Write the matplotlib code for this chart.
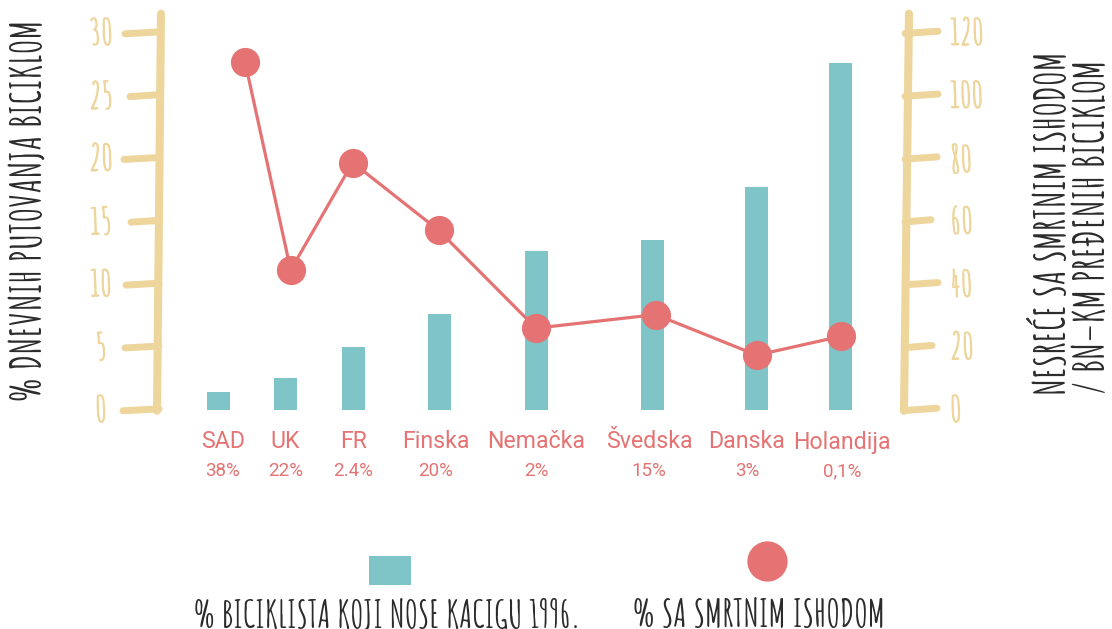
import matplotlib
matplotlib.use('Agg')
import matplotlib.pyplot as plt
import matplotlib.patheffects as pe
from matplotlib.lines import Line2D
from matplotlib.patches import Rectangle

# --- data ---
countries = ['SAD', 'UK', 'FR', 'Finska', 'Nemačka', 'Švedska', 'Danska', 'Holandija']
fatal_share = ['38%', '22%', '2.4%', '20%', '2%', '15%', '3%', '0,1%']
cycling_share = [1.4, 2.5, 5.0, 7.6, 12.6, 13.5, 17.7, 27.6]        # % dnevnih putovanja biciklom
fatalities = [110.7, 44.4, 78.6, 57.0, 25.9, 30.2, 17.3, 23.3]      # nesreće / bn-km
left_ticks = [0, 5, 10, 15, 20, 25, 30]
right_ticks = [0, 20, 40, 60, 80, 100, 120]

# horizontal layout (x units = pixels of the 1112 px wide figure)
bar_x = [218.5, 285.5, 353.5, 439.5, 536.5, 652.5, 756.5, 840.5]
dot_x = [245, 290.7, 352.7, 438.7, 536, 655.7, 756.7, 841]
label_x = [223, 285.5, 353.5, 436, 536.5, 649, 747, 842]

TEAL = '#7fc4c6'
RED = '#e57373'
TAN = '#edd59b'
INK = '#2b2b2b'
HAND = ['Amatic SC', 'DejaVu Sans']
thick = [pe.withStroke(linewidth=0.9, foreground=TAN)]

W, H = 1112, 629
fig = plt.figure(figsize=(W / 100, H / 100), dpi=100)
y0, y30 = 409.5, 32.5
ax = fig.add_axes([158 / W, (H - y0) / H, 748 / W, (y0 - y30) / H])
ax.set_xlim(158, 906)
ax.set_ylim(0, 30)
ax.axis('off')
ax2 = ax.twinx()
ax2.set_ylim(0, 120)
ax2.axis('off')

ax.bar(bar_x, cycling_share, width=23, color=TEAL, zorder=2)
ax2.plot(dot_x, fatalities, color=RED, lw=2.3, marker='o', ms=21,
         markeredgewidth=0, zorder=3)

# hand drawn left axis
ax.plot([161, 157], [31.5, -0.1], color=TAN, lw=5.8, solid_capstyle='round', clip_on=False)
left_ends = [123, 125, 126, 131, 124, 130, 125]
for t, xl in zip(left_ticks, left_ends):
    ax.plot([xl, 159], [t - 0.1, t + 0.05], color=TAN, lw=5, solid_capstyle='round', clip_on=False)
    ax.text(101, t, str(t), ha='center', va='center', color=TAN, family=HAND,
            fontsize=26, path_effects=thick)

# hand drawn right axis
ax2.plot([909, 904], [126.0, -0.4], color=TAN, lw=5.8, solid_capstyle='round', clip_on=False)
right_ends = [937, 932, 938, 931, 937, 938, 938]
for t, xr in zip(right_ticks, right_ends):
    ax2.plot([905, xr], [t - 0.3, t + 0.4], color=TAN, lw=5, solid_capstyle='round', clip_on=False)
    ax2.text(950, t, str(t), ha='left', va='center', color=TAN, family=HAND,
             fontsize=26, path_effects=thick)

# category labels
for x, c, s in zip(label_x, countries, fatal_share):
    fig.text(x / W, 1 - 442 / H, c, ha='center', va='center', color=RED,
             family='Roboto', fontsize=16.7)
    fig.text(x / W, 1 - 471 / H, s, ha='center', va='center', color=RED,
             family='Roboto', fontsize=13.5)

# axis titles
fig.text(27 / W, 1 - 210 / H, '% DNEVNIH PUTOVANJA BICIKLOM', rotation=90,
         ha='center', va='center', color=INK, family=HAND, fontsize=30, fontweight='bold')
fig.text(1047 / W, 1 - 395 / H, 'NESREĆE SA SMRTNIM ISHODOM', rotation=90,
         ha='center', va='bottom', color=INK, family=HAND, fontsize=30, fontweight='bold')
fig.text(1089 / W, 1 - 395 / H, '/ BN–KM PREĐENIH BICIKLOM', rotation=90,
         ha='center', va='bottom', color=INK, family=HAND, fontsize=30, fontweight='bold')

# legend
fig.add_artist(Rectangle((369 / W, 1 - 585 / H), 42 / W, 29 / H, color=TEAL,
                         lw=0, transform=fig.transFigure))
fig.add_artist(Line2D([766.5 / W], [1 - 561 / H], marker='o', ms=29, color=RED,
                      markeredgewidth=0, transform=fig.transFigure))
fig.text(388 / W, 1 - 627 / H, '% BICIKLISTA KOJI NOSE KACIGU 1996.', ha='center',
         va='baseline', color=INK, family=HAND, fontsize=26.5, fontweight='bold')
fig.text(759 / W, 1 - 627 / H, '% SA SMRTNIM ISHODOM', ha='center',
         va='baseline', color=INK, family=HAND, fontsize=27.3, fontweight='bold')

fig.savefig('out.png', dpi=100)
